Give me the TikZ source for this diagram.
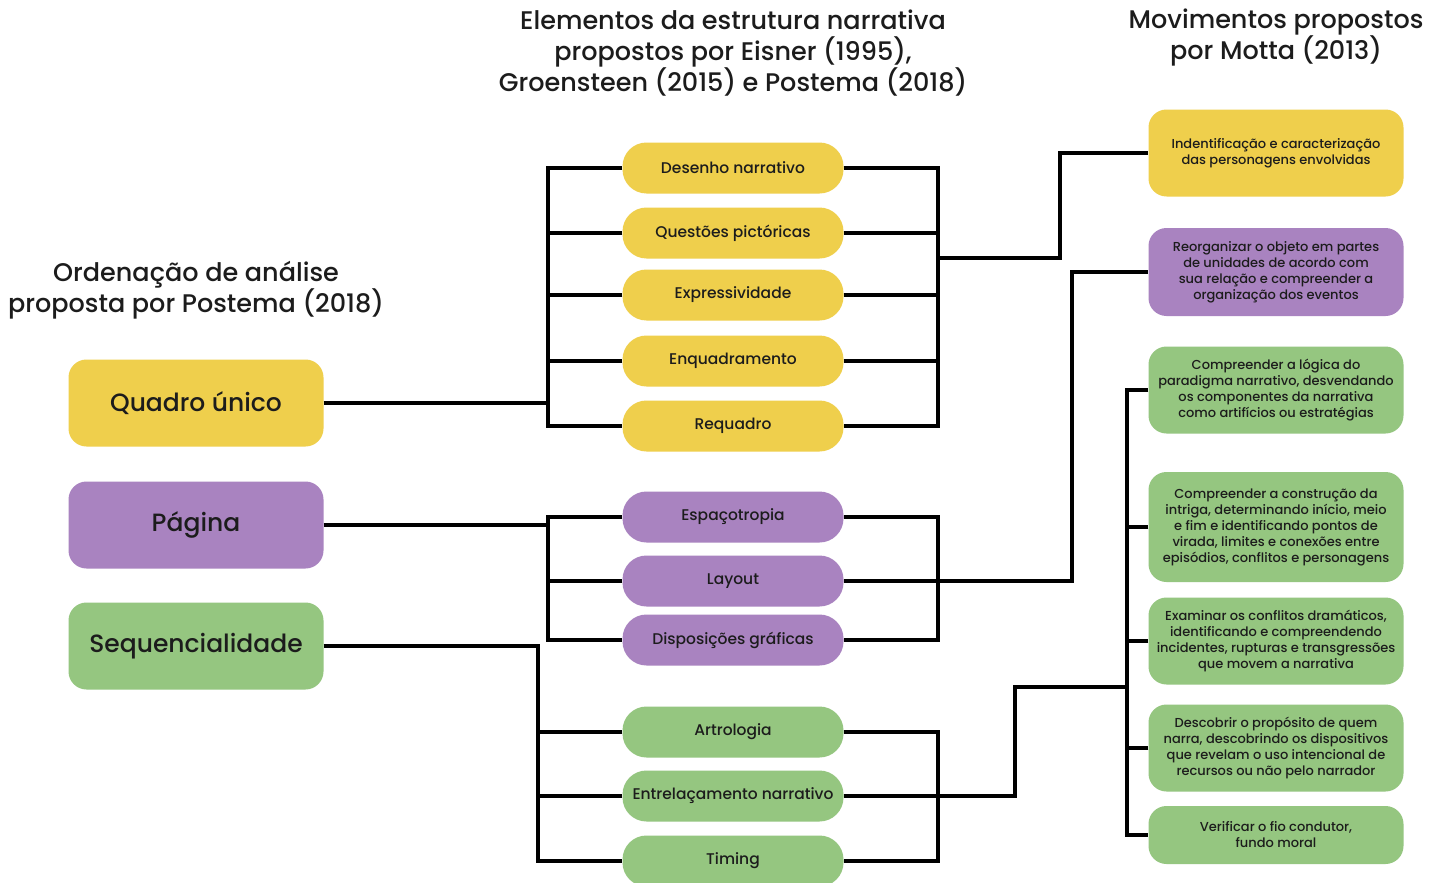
\documentclass[tikz,border=0pt]{standalone}
\usepackage{fontspec}
\setmainfont{Poppins Medium}
\usetikzlibrary{positioning}
\definecolor{ylw}{HTML}{EFCF4C}
\definecolor{prp}{HTML}{A983C0}
\definecolor{grn}{HTML}{95C680}
\definecolor{ink}{HTML}{1C1C1C}

\begin{document}
\begin{tikzpicture}[x=1pt, y=-1pt,
  every node/.style={text=ink},
  title/.style={align=center, font=\fontsize{25.5}{31}\selectfont},
  levelbox/.style={rectangle, rounded corners=18pt, minimum width=255pt,
                   minimum height=87pt, align=center, font=\fontsize{25}{28}\selectfont},
  elembox/.style={rectangle, rounded corners=24pt, minimum width=221pt,
                  minimum height=51pt, align=center, font=\fontsize{15.5}{16}\selectfont},
  movbox/.style={rectangle, rounded corners=18pt, minimum width=255pt,
                 align=center, font=\fontsize{13}{16}\selectfont},
  wire/.style={line width=3.5pt, line join=miter}
]
\useasboundingbox (0,0) rectangle (1438,883);
\fill[white] (0,0) rectangle (1438,883);

% titulos
\node[title] (tleft) at (196,290) {Ordenação de análise\\proposta por Postema (2018)};
\node[title] (tmid) at (733,53) {Elementos da estrutura narrativa\\propostos por Eisner (1995),\\Groensteen (2015) e Postema (2018)};
\node[title] (tright) at (1276,38) {Movimentos propostos\\por Motta (2013)};

% ordenacao
\node[levelbox, fill=ylw] (quad) at (196,403) {Quadro único};
\node[levelbox, fill=prp] (pag) at (196,525) {Página};
\node[levelbox, fill=grn] (seq) at (196,646) {Sequencialidade};

% elementos
\node[elembox, fill=ylw] (des) at (733,168) {Desenho narrativo};
\node[elembox, fill=ylw] (que) at (733,233) {Questões pictóricas};
\node[elembox, fill=ylw] (exp) at (733,295) {Expressividade};
\node[elembox, fill=ylw] (enq) at (733,361) {Enquadramento};
\node[elembox, fill=ylw] (req) at (733,426) {Requadro};
\node[elembox, fill=prp] (esp) at (733,517) {Espaçotropia};
\node[elembox, fill=prp] (lay) at (733,581) {Layout};
\node[elembox, fill=prp] (dis) at (733,640) {Disposições gráficas};
\node[elembox, fill=grn] (art) at (733,732) {Artrologia};
\node[elembox, fill=grn] (ent) at (733,796) {Entrelaçamento narrativo};
\node[elembox, fill=grn] (tim) at (733,861) {Timing};

% movimentos
\node[movbox, fill=ylw, minimum height=87pt] (ind) at (1276,153)
  {Indentificação e caracterização\\das personagens envolvidas};
\node[movbox, fill=prp, minimum height=88pt] (reo) at (1276,272)
  {Reorganizar o objeto em partes\\de unidades de acordo com\\sua relação e compreender a\\organização dos eventos};
\node[movbox, fill=grn, minimum height=87pt] (log) at (1276,390)
  {Compreender a lógica do\\paradigma narrativo, desvendando\\os componentes da narrativa\\como artifícios ou estratégias};
\node[movbox, fill=grn, minimum height=110pt] (int) at (1276,527)
  {Compreender a construção da\\intriga, determinando início, meio\\e fim e identificando pontos de\\virada, limites e conexões entre\\episódios, conflitos e personagens};
\node[movbox, fill=grn, minimum height=87pt] (exa) at (1276,641)
  {Examinar os conflitos dramáticos,\\identificando e compreendendo\\incidentes, rupturas e transgressões\\que movem a narrativa};
\node[movbox, fill=grn, minimum height=87pt] (desc) at (1276,748)
  {Descobrir o propósito de quem\\narra, descobrindo os dispositivos\\que revelam o uso intencional de\\recursos ou não pelo narrador};
\node[movbox, fill=grn, minimum height=58pt] (ver) at (1276,835)
  {Verificar o fio condutor,\\fundo moral};

% barramentos
\coordinate (busL) at (548,0);
\coordinate (busS) at (538,0);
\coordinate (busR) at (938,0);
\coordinate (busM) at (1127,0);

% quadro unico
\draw[wire] (quad.east) -- (quad.east -| busL);
\draw[wire] (des.west) -- (des.west -| busL) -- (req.west -| busL) -- (req.west);
\foreach \n in {que,exp,enq} \draw[wire] (\n.west) -- (\n.west -| busL);
\draw[wire] (des.east) -- (des.east -| busR) -- (req.east -| busR) -- (req.east);
\foreach \n in {que,exp,enq} \draw[wire] (\n.east) -- (\n.east -| busR);
\coordinate (yout) at (938,258);
\coordinate (ybend) at (1060,258);
\draw[wire] (yout) -- (ybend) |- (ind.west);

% pagina
\draw[wire] (pag.east) -- (pag.east -| busL);
\draw[wire] (esp.west) -- (esp.west -| busL) -- (dis.west -| busL) -- (dis.west);
\draw[wire] (lay.west) -- (lay.west -| busL);
\draw[wire] (esp.east) -- (esp.east -| busR) -- (dis.east -| busR) -- (dis.east);
\coordinate (pbend) at (1072,581);
\draw[wire] (lay.east) -- (pbend) |- (reo.west);

% sequencialidade
\draw[wire] (seq.east) -| (busS |- tim.west) -- (tim.west);
\foreach \n in {art,ent} \draw[wire] (\n.west) -- (\n.west -| busS);
\draw[wire] (art.east) -- (art.east -| busR) -- (tim.east -| busR) -- (tim.east);
\coordinate (gbend) at (1015,796);
\coordinate (gjoin) at (1127,687);
\draw[wire] (ent.east) -- (gbend) |- (gjoin);
\draw[wire] (log.west) -- (log.west -| busM) -- (ver.west -| busM) -- (ver.west);
\foreach \n in {int,exa,desc} \draw[wire] (\n.west) -- (\n.west -| busM);
\end{tikzpicture}
\end{document}
